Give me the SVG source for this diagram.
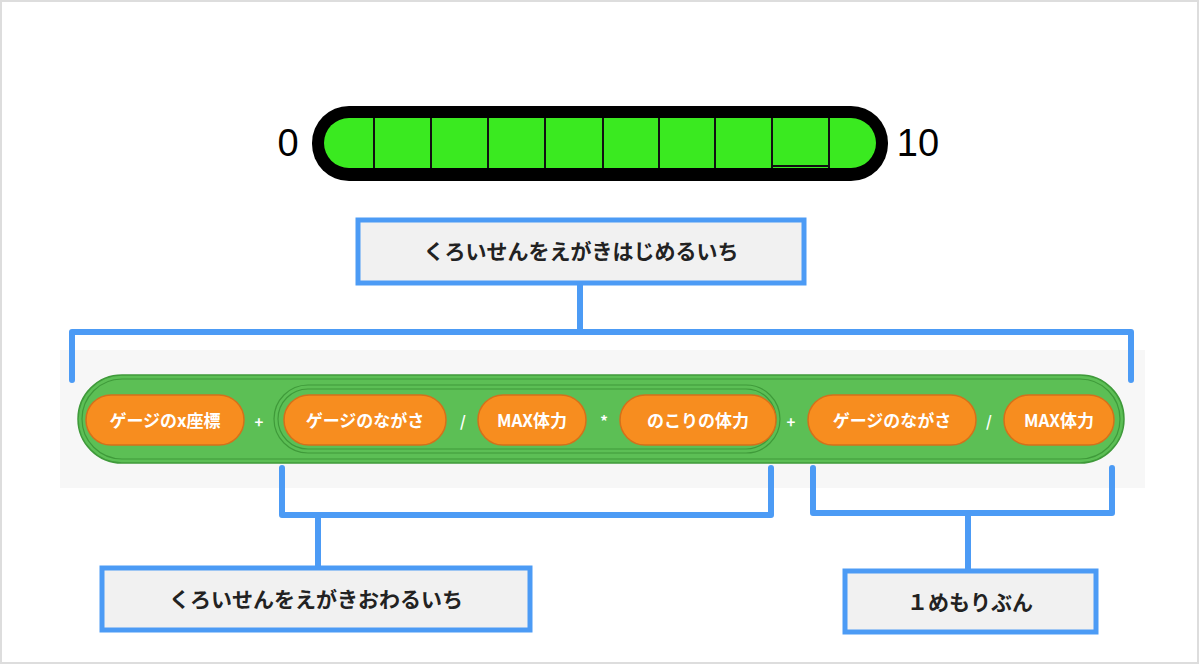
<svg xmlns="http://www.w3.org/2000/svg" width="1199" height="664" viewBox="0 0 1199 664">
<style>
.jp{font-family:"Noto Sans CJK JP","Liberation Sans",sans-serif;font-weight:bold}
.pill{fill:#f78d1f;stroke:#d5701a;stroke-width:1.5}
.pt{fill:#fff;font-size:17px;text-anchor:middle}
.op{fill:#fff;font-size:15px;text-anchor:middle}
.br{fill:none;stroke:#4c9bf5;stroke-width:6;stroke-linecap:round;stroke-linejoin:round}
.lbl{fill:#f1f1f1;stroke:#4c9bf5;stroke-width:5}
.lt{fill:#222;font-size:21px;text-anchor:middle}
.div{stroke:#111;stroke-width:2}
</style>
<rect x="1" y="1" width="1197" height="662" fill="#fff" stroke="#ddd" stroke-width="2"/>
<g id="gauge">
<text x="288" y="156" font-family="Liberation Sans,sans-serif" font-size="38" text-anchor="middle">0</text>
<text x="918" y="156" font-family="Liberation Sans,sans-serif" font-size="38" text-anchor="middle">10</text>
<rect x="312" y="106" width="576" height="75" rx="37" fill="#000"/>
<rect x="324" y="118" width="552" height="50" rx="25" fill="#3aea20"/>
<g class="div"><line x1="374" y1="118" x2="374" y2="168"/><line x1="431" y1="118" x2="431" y2="168"/><line x1="488" y1="118" x2="488" y2="168"/><line x1="545" y1="118" x2="545" y2="168"/><line x1="603" y1="118" x2="603" y2="168"/><line x1="659" y1="118" x2="659" y2="168"/><line x1="715" y1="118" x2="715" y2="168"/><line x1="772" y1="118" x2="772" y2="168"/><line x1="772" y1="166" x2="829" y2="166"/><line x1="829" y1="118" x2="829" y2="168"/></g>
</g>
<g id="block">
<rect x="60" y="350" width="1085" height="138" fill="#f7f7f7"/>
<rect x="78" y="375" width="1046" height="88" rx="44" fill="#5cbf55" stroke="#3f9a3a" stroke-width="1.5"/>
<rect x="82" y="379" width="1038" height="80" rx="40" fill="none" stroke="#3f9a3a" stroke-width="1.2"/>
<rect x="274" y="385" width="506" height="68" rx="34" fill="none" stroke="#3f9a3a" stroke-width="1.2"/>
<rect x="278" y="389" width="498" height="60" rx="30" fill="none" stroke="#3f9a3a" stroke-width="1.2"/>
<rect x="86" y="395" width="158" height="50" rx="25" class="pill"/><text x="165" y="427" class="jp pt">ゲージのx座標</text>
<text x="259" y="428" class="jp op">+</text>
<rect x="284" y="395" width="162" height="50" rx="25" class="pill"/><text x="365" y="427" class="jp pt">ゲージのながさ</text>
<text x="463" y="427" class="jp op">/</text>
<rect x="478" y="395" width="108" height="50" rx="25" class="pill"/><text x="532" y="427" class="jp pt">MAX体力</text>
<text x="604" y="427" class="jp op">*</text>
<rect x="620" y="395" width="156" height="50" rx="25" class="pill"/><text x="698" y="427" class="jp pt">のこりの体力</text>
<text x="791" y="428" class="jp op">+</text>
<rect x="808" y="395" width="168" height="50" rx="25" class="pill"/><text x="892" y="427" class="jp pt">ゲージのながさ</text>
<text x="989" y="427" class="jp op">/</text>
<rect x="1004" y="395" width="110" height="50" rx="25" class="pill"/><text x="1059" y="427" class="jp pt">MAX体力</text>
</g>
<g id="connectors">
<path class="br" d="M72 380 V332 H1131 V380 M580 332 V285"/>
<path class="br" d="M282 468 V515 H771 V468 M318 515 V570"/>
<path class="br" d="M813 468 V513 H1112 V468 M968 513 V570"/>
</g>
<g id="l1"><rect x="358" y="220" width="446" height="63" class="lbl"/><text x="581" y="259" class="jp lt">くろいせんをえがきはじめるいち</text></g>
<g id="l2"><rect x="102" y="568" width="428" height="62" class="lbl"/><text x="316" y="607" class="jp lt">くろいせんをえがきおわるいち</text></g>
<g id="l3"><rect x="845" y="571" width="251" height="61" class="lbl"/><text x="970" y="610" class="jp lt">１めもりぶん</text></g>
</svg>
